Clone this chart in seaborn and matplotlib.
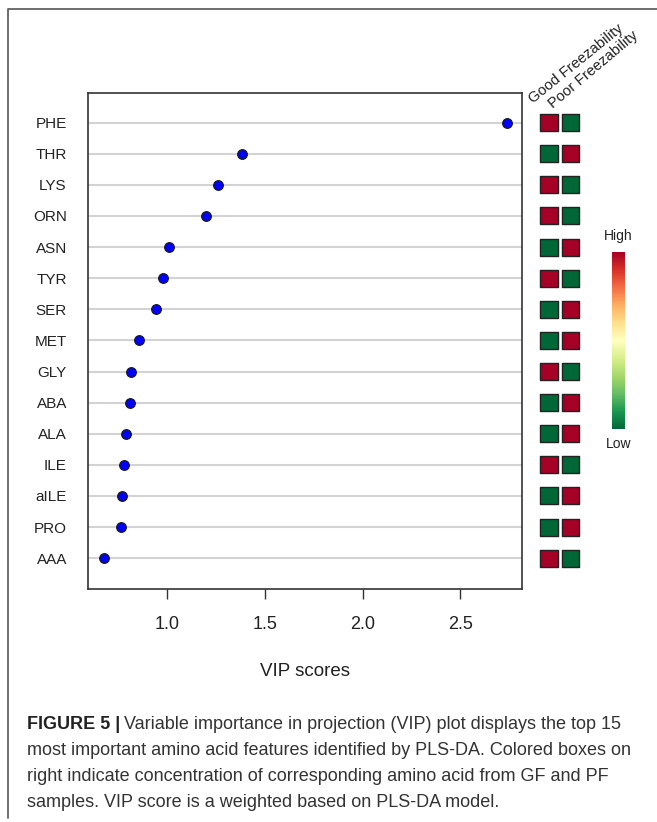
import pandas as pd
import seaborn as sns
import matplotlib.pyplot as plt
from matplotlib.lines import Line2D
from matplotlib.cm import ScalarMappable
from matplotlib.colors import Normalize

# data
features = ["PHE", "THR", "LYS", "ORN", "ASN", "TYR", "SER", "MET",
            "GLY", "ABA", "ALA", "ILE", "aILE", "PRO", "AAA"]
vip = [2.737, 1.385, 1.259, 1.201, 1.012, 0.978, 0.945, 0.858,
       0.814, 0.812, 0.789, 0.779, 0.768, 0.766, 0.676]
good_level = ["High", "Low", "High", "High", "Low", "High", "Low", "Low",
              "High", "Low", "Low", "High", "Low", "Low", "High"]
poor_level = ["Low" if g == "High" else "High" for g in good_level]
groups = ["Good Freezability", "Poor Freezability"]
xticks = [1.0, 1.5, 2.0, 2.5]

df = pd.DataFrame({"feature": features, "vip": vip, "pos": range(len(features))})
boxes = pd.DataFrame({
    "feature": features * 2,
    "pos": list(range(len(features))) * 2,
    "group": [groups[0]] * len(features) + [groups[1]] * len(features),
    "gx": [0] * len(features) + [1] * len(features),
    "level": good_level + poor_level,
})

sns.set_theme(style="white")
plt.rcParams["font.family"] = ["Liberation Sans", "DejaVu Sans"]

W, H = 657, 822
fig = plt.figure(figsize=(W / 100, H / 100), dpi=100)


def px(x0, y0, x1, y1):
    # pixel box -> figure fraction rect
    return [x0 / W, 1 - y1 / H, (x1 - x0) / W, (y1 - y0) / H]


# ── VIP dot chart ──────────────────────────────
ax = fig.add_axes(px(87.7, 92.7, 521.7, 588.7))
ylim = (len(features) - 1 + 0.98, -0.96)
ax.grid(axis="y", color="#d3d3d3", linewidth=1.5)
ax.grid(axis="x", visible=False)
ax.set_axisbelow(True)
sns.scatterplot(data=df, x="vip", y="pos", ax=ax, color="#0000ff",
                edgecolor="#1a1a1a", linewidth=0.9, s=48, zorder=3, legend=False)
ax.set_xlim(0.594, 2.813)
ax.set_ylim(*ylim)
ax.set_yticks(range(len(features)), labels=features)
ax.set_xticks(xticks, labels=[f"{t:.1f}" for t in xticks])
ax.tick_params(axis="y", length=0, pad=15, labelsize=11, labelcolor="#222222")
ax.tick_params(axis="x", bottom=True, length=7, width=1, color="#333333",
               pad=13, labelsize=13, labelcolor="#222222")
ax.set_xlabel("VIP scores", fontsize=13.5, color="#222222", labelpad=21)
ax.set_ylabel("")
for sp in ax.spines.values():
    sp.set_color("#333333")
    sp.set_linewidth(1.2)

# ── group boxes ────────────────────────────────
axb = fig.add_axes(px(538.25, 92.7, 581.25, 588.7))
red, green = "#a50026", "#006837"
sns.scatterplot(data=boxes, x="gx", y="pos", hue="level", ax=axb,
                palette={"High": red, "Low": green}, marker="s", s=150,
                edgecolor="#222222", linewidth=1.0, legend=False)
axb.set_xlim(-0.5, 1.5)
axb.set_ylim(*ylim)
axb.axis("off")

fig.text(533 / W, 1 - 104 / H, groups[0], rotation=39, rotation_mode="anchor",
         ha="left", va="baseline", fontsize=10.7, color="#222222")
fig.text(553 / W, 1 - 109 / H, groups[1], rotation=40, rotation_mode="anchor",
         ha="left", va="baseline", fontsize=10.7, color="#222222")

# ── colour key ─────────────────────────────────
axc = fig.add_axes(px(612, 251.7, 625, 429.3))
cb = fig.colorbar(ScalarMappable(norm=Normalize(0, 1), cmap="RdYlGn_r"), cax=axc)
cb.set_ticks([])
cb.outline.set_visible(False)
fig.text(618.5 / W, 1 - 236 / H, "High", ha="center", va="center",
         fontsize=10, color="#222222")
fig.text(618.5 / W, 1 - 444 / H, "Low", ha="center", va="center",
         fontsize=10, color="#222222")

# ── outer frame ────────────────────────────────
fig.add_artist(Line2D([8 / W, 8 / W, 1.0], [1 - 818 / H, 1 - 9 / H, 1 - 9 / H],
                      transform=fig.transFigure, color="#555555", linewidth=1.2))

# ── caption ────────────────────────────────────
cap_font = ["Liberation Sans", "DejaVu Sans"]
cap_lines = [
    "Variable importance in projection (VIP) plot displays the top 15",
    "most important amino acid features identified by PLS-DA. Colored boxes on",
    "right indicate concentration of corresponding amino acid from GF and PF",
    "samples. VIP score is a weighted based on PLS-DA model.",
]
baselines = [729, 755, 781, 807]
bold = fig.text(27 / W, 1 - baselines[0] / H, "FIGURE 5 |", family=cap_font,
                fontsize=13, fontweight="bold", va="baseline", color="#222222")
fig.canvas.draw()
bb = bold.get_window_extent(renderer=fig.canvas.get_renderer())
for i, (line, yb) in enumerate(zip(cap_lines, baselines)):
    x0 = (bb.x1 + 4) / W if i == 0 else 27 / W
    fig.text(x0, 1 - yb / H, line, family=cap_font, fontsize=13,
             va="baseline", color="#333333")

fig.savefig("out.png", dpi=100)
